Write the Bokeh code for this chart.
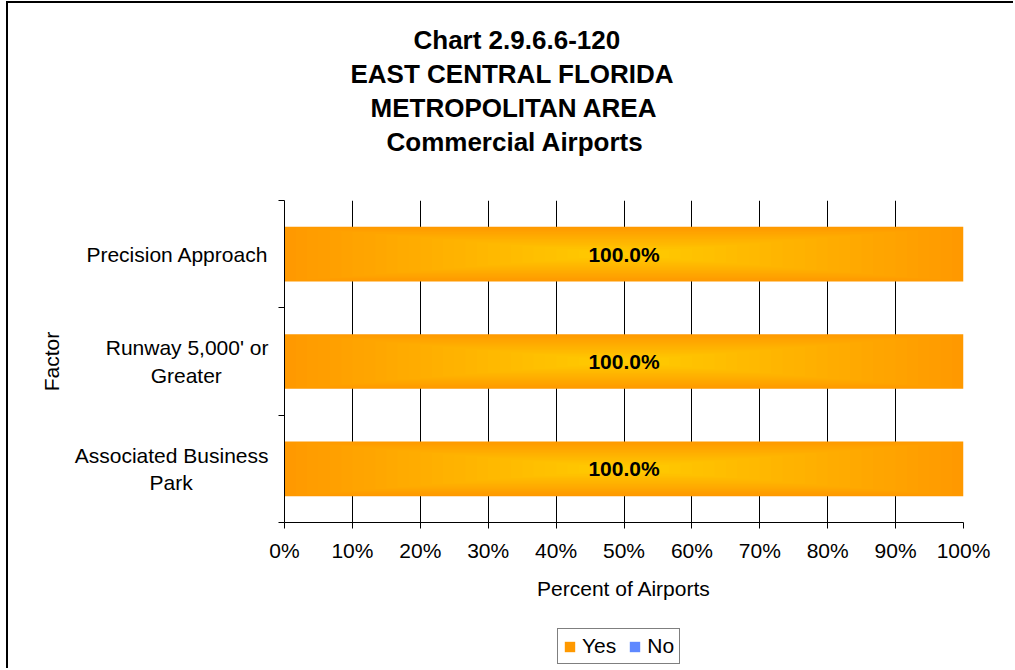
from bokeh.plotting import figure
from bokeh.layouts import column
from bokeh.models import Range1d, FixedTicker, Title, Legend, LegendItem
from bokeh.core.properties import value
from bokeh.embed import file_html
from bokeh.resources import INLINE

# ---------------- data ----------------
categories = [["Associated Business", "Park"], ["Runway 5,000' or", "Greater"], ["Precision Approach"]]  # bottom -> top
yes_pct = [100.0, 100.0, 100.0]
no_pct = [0.0, 0.0, 0.0]
x_ticks = [0, 10, 20, 30, 40, 50, 60, 70, 80, 90, 100]
x_tick_labels = ["0%", "10%", "20%", "30%", "40%", "50%", "60%", "70%", "80%", "90%", "100%"]
title_lines = ["Chart 2.9.6.6-120", "EAST CENTRAL FLORIDA", "METROPOLITAN AREA", "Commercial Airports"]
series_names = ["Yes", "No"]
series_colors = ["#FF9900", "#5E88FF"]

FONT = "Liberation Sans"

# approximate Arial/Liberation Sans advance widths (em) for centring wrapped labels
_W = {" ": .278, "'": .191, ",": .278, ".": .278, "i": .222, "l": .222, "t": .278, "f": .278,
      "r": .333, "s": .5, "c": .5, "k": .5, "y": .5, "w": .722, "A": .667, "B": .667, "P": .667,
      "R": .722, "G": .778, "N": .722, "m": .833}


def _width(s):
    return sum(_W.get(ch, .556) for ch in s)


def centred(lines):
    widest = max(_width(l) for l in lines)
    out = []
    for l in lines:
        pad = int(round((widest - _width(l)) / 2 / _W[" "]))
        out.append(l + "\u00a0" * pad)
    return "\n".join(out)


p = figure(frame_width=679, frame_height=322,
           x_range=Range1d(0, 100), y_range=Range1d(0, len(categories)),
           output_backend="svg", toolbar_location=None,
           min_border_left=276, min_border_right=52,
           min_border_top=197, min_border_bottom=93,
           background_fill_color="white", border_fill_color="white")
p.outline_line_color = None
p.title.visible = False

# grid
p.ygrid.visible = False
p.xgrid.ticker = FixedTicker(ticks=x_ticks)
p.xgrid.grid_line_color = "black"
p.xgrid.grid_line_alpha = 1.0
p.xgrid.grid_line_width = 1

# x axis
xa = p.xaxis[0]
xa.ticker = FixedTicker(ticks=x_ticks)
xa.major_label_overrides = {t: l for t, l in zip(x_ticks, x_tick_labels)}
xa.major_tick_out = 6
xa.major_tick_in = 0
xa.minor_tick_out = 0
xa.minor_tick_in = 0
xa.axis_line_color = "black"
xa.major_tick_line_color = "black"
xa.major_label_text_font = FONT
xa.major_label_text_font_size = "21px"
xa.major_label_text_color = "black"
xa.major_label_standoff = 10
xa.axis_label = "Percent of Airports"
xa.axis_label_text_font = FONT
xa.axis_label_text_font_size = "21px"
xa.axis_label_text_font_style = "normal"
xa.axis_label_text_color = "black"
xa.axis_label_standoff = 12

# y axis (labels at category centres, tick marks at boundaries)
ys = [i + 0.5 for i in range(len(categories))]
bounds = [float(i) for i in range(len(categories) + 1)]
ya = p.yaxis[0]
ya.ticker = FixedTicker(ticks=ys, minor_ticks=bounds)
ya.major_label_overrides = {y: centred(c) for y, c in zip(ys, categories)}
ya.major_tick_out = 0
ya.major_tick_in = 0
ya.minor_tick_out = 6
ya.minor_tick_in = 0
ya.minor_tick_line_color = "black"
ya.axis_line_color = "black"
ya.major_label_text_font = FONT
ya.major_label_text_font_size = "21px"
ya.major_label_text_color = "black"
ya.major_label_standoff = 10
ya.axis_label = "Factor"
ya.axis_label_text_font = FONT
ya.axis_label_text_font_size = "21px"
ya.axis_label_text_font_style = "normal"
ya.axis_label_text_color = "black"
ya.axis_label_standoff = 9

# bars with a rectangular centre gradient (orange edges -> yellow centre)
bar_h = 0.51
orange = (255, 153, 0)
yellow = (255, 204, 0)
N = 30
lefts0 = [0.0] * len(yes_pct)
rights0 = yes_pct
for k in range(N):
    s = 1 - k / N
    t = k / (N - 1)
    col = "#%02x%02x%02x" % tuple(int(round(o + (yv - o) * t)) for o, yv in zip(orange, yellow))
    mids = [(l + r) / 2 for l, r in zip(lefts0, rights0)]
    halfs = [(r - l) / 2 * s for l, r in zip(lefts0, rights0)]
    p.hbar(y=ys, left=[m - h for m, h in zip(mids, halfs)],
           right=[m + h for m, h in zip(mids, halfs)],
           height=bar_h * s, fill_color=col, line_color=None)

p.hbar(y=ys, left=yes_pct, right=[a + b for a, b in zip(yes_pct, no_pct)],
       height=bar_h, fill_color=series_colors[1], line_color=None)

# value labels
p.text(x=[v / 2 for v in yes_pct], y=ys, text=["%.1f%%" % v for v in yes_pct],
       text_align="center", text_baseline="middle",
       text_font=value(FONT), text_font_size="21px", text_font_style="bold",
       text_color="black")

# title lines (first added = closest to the plot area)
p.add_layout(Title(text=" ", text_font_size="26px", standoff=10), "above")
title_offsets = [129, 66, 86, 102]
for line, off in reversed(list(zip(title_lines, title_offsets))):
    p.add_layout(Title(text=line, align="left", offset=off, vertical_align="middle",
                       text_font=FONT, text_font_size="26px", text_font_style="bold",
                       text_color="black", standoff=2), "above")

# ---------------- legend strip ----------------
pl = figure(width=1007, height=55, x_range=Range1d(0, 1), y_range=Range1d(0, 1),
            output_backend="svg", toolbar_location=None,
            x_axis_location=None, y_axis_location=None, min_border=0,
            background_fill_color="white", border_fill_color="white")
pl.outline_line_color = None
pl.grid.visible = False
pl.title.visible = False
items = []
for name, c in zip(series_names, series_colors):
    r = pl.hbar(y=[-5], left=[0], right=[0], height=0, fill_color=c, line_color=None)
    items.append(LegendItem(label=name, renderers=[r]))
legend = Legend(items=items, orientation="horizontal", location=(273, 6),
                label_text_font=FONT, label_text_font_size="21px", label_text_color="black",
                glyph_width=13, glyph_height=13, label_standoff=6, spacing=12,
                padding=5, margin=0,
                border_line_color="black", border_line_width=1,
                background_fill_color="white", background_fill_alpha=1.0)
pl.add_layout(legend)

layout = column(p, pl, spacing=0,
                styles={"margin-left": "8px", "margin-top": "3px",
                        "box-shadow": "-2px -2px 0px 0px black"})

open("out.html", "w").write(file_html(layout, INLINE))
